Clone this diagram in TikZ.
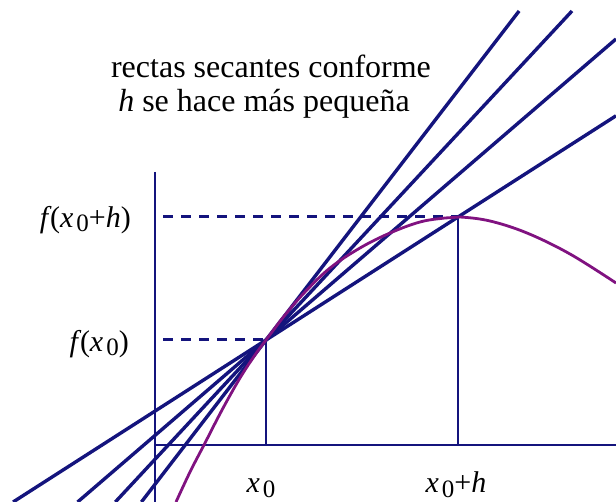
\documentclass[tikz,border=0pt]{standalone}
\usepackage{fontspec}
\setmainfont{Liberation Serif}
\definecolor{navy}{RGB}{20,20,125}
\definecolor{curvep}{RGB}{128,18,128}
\newcommand\zsub{\kern3pt\raisebox{-4.5pt}{\fontsize{25}{25}\selectfont 0}}
\newcommand\fit{\textit{f}\kern-1.5pt}
\begin{document}
\begin{tikzpicture}[x=1pt,y=-1pt,
  secant/.style={draw=navy,line width=3.4pt},
  axisline/.style={draw=navy,line width=2.3pt},
  guide/.style={draw=navy,line width=3pt,dash pattern=on 10pt off 8pt,dash phase=10pt},
  drop/.style={draw=navy,line width=2.3pt},
  fcurve/.style={draw=curvep,line width=2.8pt,line join=round},
  lbl/.style={font=\fontsize{30}{32}\selectfont,inner sep=0pt},
  ttl/.style={font=\fontsize{32}{36}\selectfont,inner sep=0pt,anchor=base}]
\useasboundingbox (0,0) rectangle (616,502);
% key points
\coordinate (P) at (266,340);
\coordinate (Q) at (458,217);
\coordinate (Ytop) at (155,172);
\coordinate (Ybot) at (155,502);
\coordinate (O) at (155,445);
\coordinate (Xend) at (616,445);
\coordinate (Pfoot) at (266,445);
\coordinate (Qfoot) at (458,445);
\coordinate (Pleft) at (155,340);
\coordinate (Qleft) at (155,217);
% secant end points
\coordinate (s1a) at (141.4,502);
\coordinate (s1b) at (519.1,11);
\coordinate (s2a) at (115.3,502);
\coordinate (s2b) at (572,11);
\coordinate (s3a) at (77.6,502);
\coordinate (s3b) at (616,39);
\coordinate (s4a) at (13.1,502);
\coordinate (s4b) at (616,115.8);
% axes
\draw[axisline] (Ytop) -- (Ybot);
\draw[axisline] (O) -- (Xend);
% guides
\draw[guide] (Pleft) -- (P);
\draw[guide] (Qleft) -- (Q);
\draw[drop] (P) -- (Pfoot);
\draw[drop] (Q) -- (Qfoot);
% secants
\draw[secant] (s1a) -- (s1b);
\draw[secant] (s2a) -- (s2b);
\draw[secant] (s3a) -- (s3b);
\draw[secant] (s4a) -- (s4b);
% curve
\draw[fcurve] plot[smooth,tension=0.6] coordinates {(176,502) (190,472) (205,443) (222,410) (240,378) (255,355) (266,340) (285,315) (305,292) (330,268) (360,248) (390,233) (420,222) (445,218) (460,217) (490,221) (527,233) (570,254) (616,283)};
% texts
\node[ttl] (t1) at (271,78) {rectas secantes conforme};
\node[ttl] (t2) at (264,112) {\textit{h} se hace más pequeña};
\node[lbl,anchor=east] (fq) at (131,220) {\fit(\textit{x}\zsub+\textit{h})};
\node[lbl,anchor=east] (fp) at (129,344) {\fit(\textit{x}\zsub)};
\node[lbl,anchor=base] (xp) at (261,493) {\textit{x}\zsub};
\node[lbl,anchor=base] (xq) at (456,493) {\textit{x}\zsub+\textit{h}};
\end{tikzpicture}
\end{document}
